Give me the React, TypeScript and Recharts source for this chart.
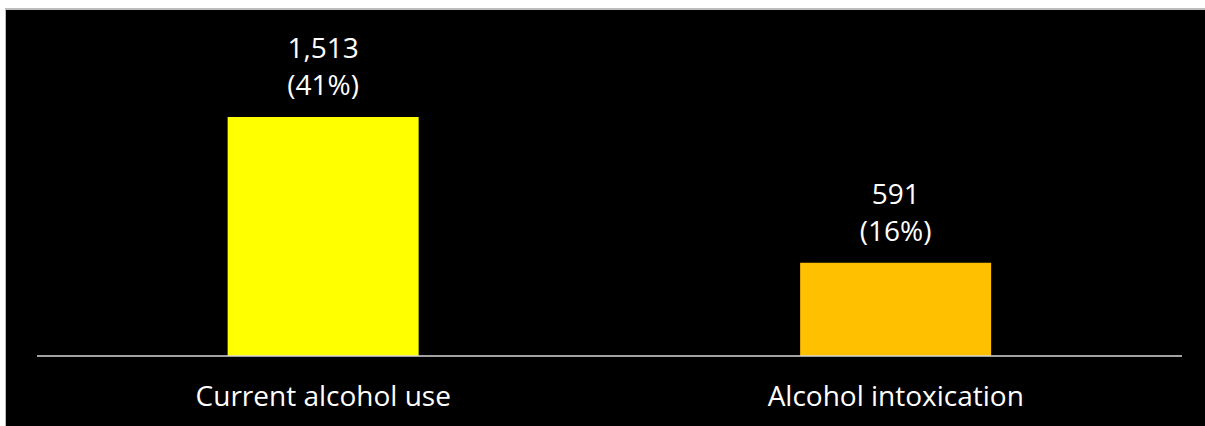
import React from "react";
import { BarChart, Bar, XAxis, YAxis, Cell, LabelList } from "recharts";

const categories = ["Current alcohol use", "Alcohol intoxication"];
const counts = [1513, 591];
const percents = ["41%", "16%"];

const COLORS = [
  "#ffff00", // yellow
  "#ffc000", // amber
];

const FONT = "'Open Sans', sans-serif";

const rows = categories.map((name, i) => ({
  name,
  count: counts[i],
  pct: percents[i],
}));

const TwoLineLabel = (props: any) => {
  const { x, y, width, index } = props;
  const cx = x + width / 2;
  const row = rows[index];
  return (
    <g>
      <text
        x={cx}
        y={y - 70}
        textAnchor="middle"
        dominantBaseline="central"
        fill="#ffffff"
        fontSize={28}
        fontFamily={FONT}
      >
        {row.count.toLocaleString("en-US")}
      </text>
      <text
        x={cx}
        y={y - 33}
        textAnchor="middle"
        dominantBaseline="central"
        fill="#ffffff"
        fontSize={28}
        fontFamily={FONT}
      >
        ({row.pct})
      </text>
    </g>
  );
};

const CategoryTick = (props: any) => {
  const { x, y, payload } = props;
  return (
    <text
      x={x}
      y={y + 31}
      textAnchor="middle"
      dominantBaseline="central"
      fill="#ffffff"
      fontSize={28}
      fontFamily={FONT}
    >
      {payload.value}
    </text>
  );
};

const App: React.FC = () => {
  return (
    <div
      style={{
        position: "fixed",
        left: 0,
        top: 0,
        width: 1205,
        height: 426,
        background: "#ffffff",
      }}
    >
      <div
        style={{
          position: "absolute",
          left: 5,
          top: 8,
          width: 1200,
          height: 418,
          borderTop: "2px solid #bdbdbd",
          borderLeft: "1px solid #bdbdbd",
          background: "#000000",
        }}
      >
        <BarChart
          width={1199}
          height={416}
          data={rows}
          margin={{ top: 0, right: 23, bottom: 0, left: 31 }}
          barCategoryGap="33.3%"
        >
          <XAxis
            dataKey="name"
            height={70}
            axisLine={{ stroke: "#d9d9d9", strokeWidth: 1.5 }}
            tickLine={false}
            tick={<CategoryTick />}
            interval={0}
          />
          <YAxis hide domain={[0, 2190]} />
          <Bar dataKey="count" isAnimationActive={false}>
            {rows.map((_, i) => (
              <Cell key={`cell-${i}`} fill={COLORS[i % COLORS.length]} />
            ))}
            <LabelList dataKey="count" content={<TwoLineLabel />} />
          </Bar>
        </BarChart>
      </div>
    </div>
  );
};

export default App;
